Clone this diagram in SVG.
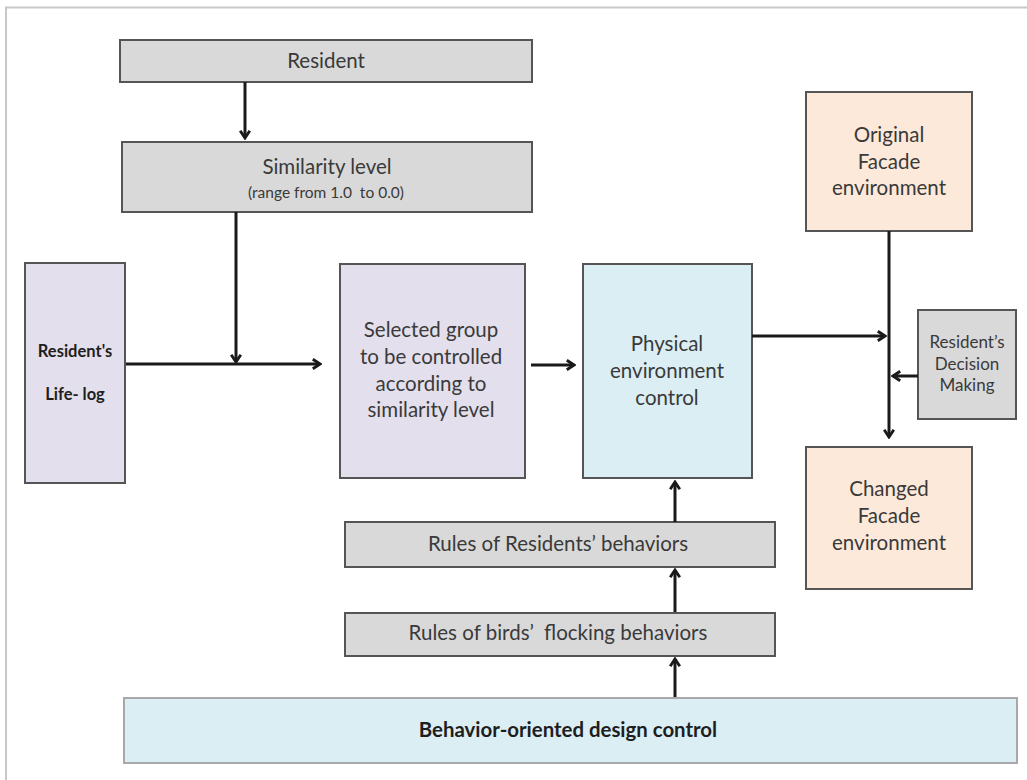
<svg xmlns="http://www.w3.org/2000/svg" width="1027" height="780" viewBox="0 0 1027 780">
  <style>
    text { font-family: Lato, "Open Sans", "Liberation Sans", sans-serif; fill: #3a3a3a; text-anchor: middle; }
    .box { stroke: #555; stroke-width: 2; }
    .gray { fill: #d9d9d9; }
    .lav { fill: #e4dfec; }
    .blue { fill: #dbeef4; }
    .peach { fill: #fde9d9; }
    .conn { stroke: #1a1a1a; stroke-width: 3; fill: none; }
    .t21 { font-size: 20.5px; }
    .t17 { font-size: 17px; }
    .t15 { font-size: 15.5px; }
    .b { font-weight: bold; fill: #1e1e1e; }
  </style>
  <defs>
    <marker id="arrow" viewBox="0 0 10 10" refX="8" refY="5" markerWidth="4" markerHeight="4" orient="auto" markerUnits="strokeWidth">
      <polyline points="2,1 8,5 2,9" fill="none" stroke="#1a1a1a" stroke-width="2.4"/>
    </marker>
  </defs>

  <rect width="1027" height="780" fill="#ffffff"/>
  <!-- page frame: only top and left edges lie inside the canvas -->
  <path d="M6,790 V7.5 H1040" fill="none" stroke="#c8c8c8" stroke-width="2"/>

  <g id="resident">
    <rect class="box gray" x="120" y="40" width="412" height="42"/>
    <text class="t21" x="326" y="68">Resident</text>
  </g>

  <g id="similarity">
    <rect class="box gray" x="122" y="142" width="410" height="70"/>
    <text class="t21" x="327" y="174">Similarity level</text>
    <text class="t15" x="326" y="198">(range from 1.0&#160; to 0.0)</text>
  </g>

  <g id="lifelog">
    <rect class="box lav" x="25" y="263" width="100" height="220"/>
    <text class="b" font-size="16.5" x="75" y="357">Resident's</text>
    <text class="b" font-size="16.5" x="75" y="400">Life- log</text>
  </g>

  <g id="selected">
    <rect class="box lav" x="340" y="264" width="185" height="214"/>
    <text class="t21" x="431" y="337">Selected group</text>
    <text class="t21" x="431" y="364">to be controlled</text>
    <text class="t21" x="431" y="391">according to</text>
    <text class="t21" x="431" y="417">similarity level</text>
  </g>

  <g id="physical">
    <rect class="box blue" x="583" y="264" width="169" height="214"/>
    <text class="t21" x="667" y="351">Physical</text>
    <text class="t21" x="667" y="378">environment</text>
    <text class="t21" x="667" y="405">control</text>
  </g>

  <g id="original">
    <rect class="box peach" x="806" y="92" width="166" height="139"/>
    <text class="t21" x="889" y="142">Original</text>
    <text class="t21" x="889" y="169">Facade</text>
    <text class="t21" x="889" y="195">environment</text>
  </g>

  <g id="decision">
    <rect class="box gray" x="918" y="310" width="98" height="109"/>
    <text class="t17" x="967" y="348">Resident’s</text>
    <text class="t17" x="967" y="370">Decision</text>
    <text class="t17" x="967" y="391">Making</text>
  </g>

  <g id="changed">
    <rect class="box peach" x="806" y="447" width="166" height="142"/>
    <text class="t21" x="889" y="496">Changed</text>
    <text class="t21" x="889" y="523">Facade</text>
    <text class="t21" x="889" y="550">environment</text>
  </g>

  <g id="rules-residents">
    <rect class="box gray" x="345" y="522" width="430" height="45"/>
    <text class="t21" x="558" y="551">Rules of Residents’ behaviors</text>
  </g>

  <g id="rules-birds">
    <rect class="box gray" x="345" y="613" width="430" height="43"/>
    <text class="t21" x="558" y="640">Rules of birds’&#160; flocking behaviors</text>
  </g>

  <g id="behavior">
    <rect x="124" y="698" width="893" height="65" fill="#dbeef4" stroke="#a8a8a8" stroke-width="2"/>
    <text class="b" font-size="20.4" x="568" y="737">Behavior-oriented design control</text>
  </g>

  <g id="connectors">
    <line class="conn" x1="245" y1="82" x2="245" y2="138" marker-end="url(#arrow)"/>
    <line class="conn" x1="236" y1="212" x2="236" y2="362" marker-end="url(#arrow)"/>
    <line class="conn" x1="126" y1="364" x2="320" y2="364" marker-end="url(#arrow)"/>
    <line class="conn" x1="531" y1="365" x2="574" y2="365" marker-end="url(#arrow)"/>
    <line class="conn" x1="752" y1="336" x2="885" y2="336" marker-end="url(#arrow)"/>
    <line class="conn" x1="889" y1="231" x2="889" y2="437" marker-end="url(#arrow)"/>
    <line class="conn" x1="918" y1="376" x2="893" y2="376" marker-end="url(#arrow)"/>
    <line class="conn" x1="675" y1="522" x2="675" y2="482" marker-end="url(#arrow)"/>
    <line class="conn" x1="675" y1="612" x2="675" y2="570" marker-end="url(#arrow)"/>
    <line class="conn" x1="675" y1="697" x2="675" y2="659" marker-end="url(#arrow)"/>
  </g>
</svg>
